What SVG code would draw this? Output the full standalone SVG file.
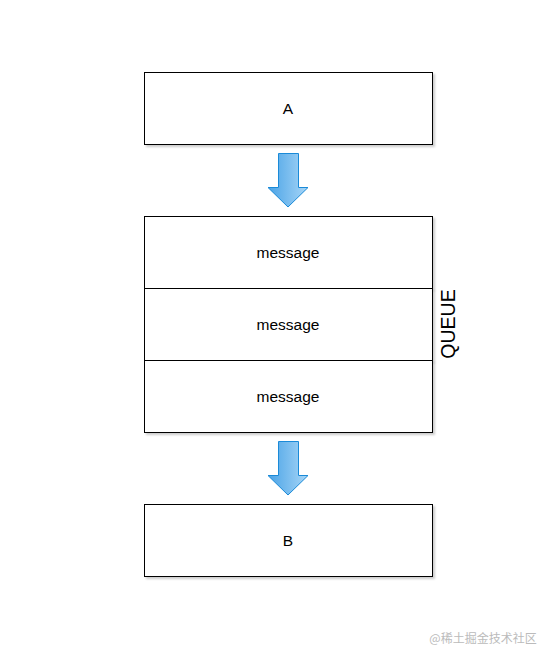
<svg xmlns="http://www.w3.org/2000/svg" width="538" height="648" viewBox="0 0 538 648">
<defs>
<linearGradient id="g" x1="0" y1="0" x2="1" y2="0">
<stop offset="0" stop-color="#4aa3e6"/>
<stop offset="1" stop-color="#a8d6f7"/>
</linearGradient>
<filter id="sh" x="-5%" y="-5%" width="115%" height="120%">
<feDropShadow dx="2" dy="2" stdDeviation="1.2" flood-color="#000" flood-opacity="0.2"/>
</filter>
<style>
.box{fill:#fff;stroke:#000;stroke-width:1;filter:url(#sh)}
.t{font-family:"Helvetica","Liberation Sans",Arial,sans-serif;font-size:15.5px;fill:#000;text-anchor:middle;dominant-baseline:central}
.arr{fill:url(#g);stroke:#1a8ad8;stroke-width:1}
</style>
</defs>
<rect width="538" height="648" fill="#fff"/>
<g id="A"><rect class="box" x="144.5" y="72.5" width="288" height="72"/><text class="t" x="288" y="108">A</text></g>
<g id="queue">
<g id="m1"><rect class="box" x="144.5" y="216.5" width="288" height="72"/><text class="t" x="288" y="252">message</text></g>
<g id="m2"><rect class="box" x="144.5" y="288.5" width="288" height="72"/><text class="t" x="288" y="324">message</text></g>
<g id="m3"><rect class="box" x="144.5" y="360.5" width="288" height="72"/><text class="t" x="288" y="396">message</text></g>
<text class="t" style="font-size:19.5px" transform="translate(448,324) rotate(-90)">QUEUE</text>
</g>
<g id="B"><rect class="box" x="144.5" y="504.5" width="288" height="72"/><text class="t" x="288" y="540">B</text></g>
<g id="connectors">
<path class="arr" d="M278.5 153.5 H298.5 V187.5 H308 L288 207 L268 187.5 H278.5 Z"/>
<path class="arr" d="M278.5 441.5 H298.5 V475.5 H308 L288 495 L268 475.5 H278.5 Z"/>
</g>
<text x="483" y="637" font-family="'Noto Sans CJK SC',sans-serif" font-size="12" fill="#bbb" text-anchor="middle" dominant-baseline="central">@稀土掘金技术社区</text>
</svg>
